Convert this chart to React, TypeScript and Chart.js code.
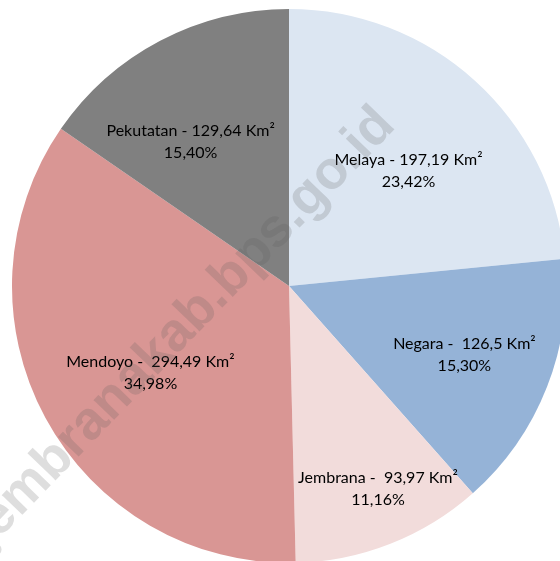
import React, { useEffect, useRef } from "react";
import { Chart, registerables } from "chart.js";

Chart.register(...registerables);

const categories = ["Melaya", "Negara", "Jembrana", "Mendoyo", "Pekutatan"];
const areas = [197.19, 126.5, 93.97, 294.49, 129.64];
const areaLabels = ["197,19", "126,5", "93,97", "294,49", "129,64"];
const separators = [" - ", " -  ", " -  ", " -  ", " - "];
const percentLabels = ["23,42%", "15,30%", "11,16%", "34,98%", "15,40%"];
const colors = ["#DCE6F2", "#95B3D7", "#F2DCDB", "#D99694", "#808080"];

// label placement (fraction of radius, angle offset in degrees)
const labelRadius = [0.6, 0.68, 0.8, 0.59, 0.63];
const labelAngleOffset = [3.8, 0, -2.2, -3.6, -6.6];

const FONT = "Lato, 'Liberation Sans', sans-serif";

const labelPlugin = {
  id: "sliceLabels",
  afterDatasetsDraw(chart: any) {
    const ctx = chart.ctx;
    const meta = chart.getDatasetMeta(0);
    ctx.save();
    ctx.fillStyle = "#000";
    ctx.font = `16px ${FONT}`;
    ctx.textAlign = "center";
    ctx.textBaseline = "middle";
    meta.data.forEach((arc: any, i: number) => {
      const mid = (arc.startAngle + arc.endAngle) / 2 + (labelAngleOffset[i] * Math.PI) / 180;
      const r = arc.outerRadius * labelRadius[i];
      const x = arc.x + Math.cos(mid) * r;
      const y = arc.y + Math.sin(mid) * r;
      ctx.fillText(`${categories[i]}${separators[i]}${areaLabels[i]} Km²`, x, y - 11);
      ctx.fillText(percentLabels[i], x, y + 11);
    });
    ctx.restore();
  },
};

const watermarkPlugin = {
  id: "watermark",
  afterDraw(chart: any) {
    const ctx = chart.ctx;
    ctx.save();
    ctx.translate(182, 328);
    ctx.rotate((-46 * Math.PI) / 180);
    ctx.font = "bold 54px 'Liberation Sans', Arial, sans-serif";
    ctx.fillStyle = "rgba(90,90,90,0.2)";
    ctx.textAlign = "center";
    ctx.textBaseline = "middle";
    ctx.fillText("jembranakab.bps.go.id", 0, 0);
    ctx.restore();
  },
};

export default function App() {
  const ref = useRef<HTMLCanvasElement>(null);
  useEffect(() => {
    document.body.style.margin = "0";
    document.body.style.overflow = "hidden";
    const chart = new Chart(ref.current!, {
      type: "pie",
      data: {
        labels: categories,
        datasets: [
          {
            data: areas,
            backgroundColor: colors,
            borderWidth: 0,
          },
        ],
      },
      options: {
        responsive: false,
        animation: false,
        devicePixelRatio: 1,
        layout: { padding: { top: 9, bottom: 11, left: 9, right: 9 } },
        plugins: {
          legend: { display: false },
          tooltip: { enabled: false },
        },
      } as any,
      plugins: [labelPlugin, watermarkPlugin],
    });
    return () => chart.destroy();
  }, []);
  return (
    <div style={{ width: 560, height: 561, overflow: "hidden", position: "relative", background: "#fff" }}>
      <canvas ref={ref} width={578} height={574} style={{ display: "block" }} />
    </div>
  );
}
